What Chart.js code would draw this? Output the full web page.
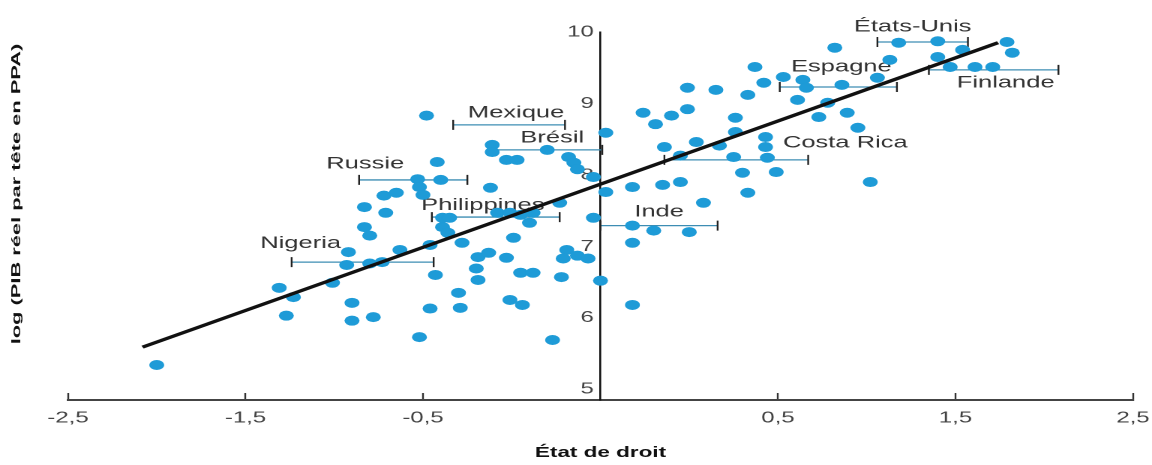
<!DOCTYPE html>
<html lang="fr">
<head>
<meta charset="utf-8">
<script src="https://cdn.jsdelivr.net/npm/chart.js@4.4.1/dist/chart.umd.min.js"></script>
<style>
html,body{margin:0;padding:0;background:#fff;overflow:hidden;}
#wrap{width:768px;height:465px;transform:scaleX(1.5);transform-origin:0 0;}
</style>
</head>
<body>
<div id="wrap"><canvas id="c" width="768" height="465"></canvas></div>
<script>
// ---------- DATA (x in the figure's plotting units; the published axis labels are uneven) ----------
const xTickValues = [-2.5, -1.5, -0.5, 0.5, 1.5, 2.5, 3.5];
const xTickLabels = ['-2,5', '-1,5', '-0,5', '', '0,5', '1,5', '2,5'];
const yTickValues = [5, 6, 7, 8, 9, 10];

const dotX = [
  -2.00, -1.31, -1.23, -1.27, -1.01, -0.92, -0.93, -0.90, -0.90, -0.78,
  -0.80, -0.73, -0.63, -0.83, -0.80, -0.83, -0.71, -0.72, -0.65, -0.53,
  -0.52, -0.50, -0.40, -0.42, -0.48, -0.12, -0.46, -0.28, -0.43, -0.46,
  -0.52, -0.30, -0.29, -0.39, -0.35, -0.39, -0.36, -0.19, -0.13, -0.20,
  -0.19, -0.03, 0.01, -0.11, -0.11, -0.03, 0.03, 0.20, 0.32, 0.35,
  0.37, 0.46, 0.53, 0.53, 0.27, -0.08, -0.01, 0.05, 0.12, 0.10,
  0.46, 0.05, 0.12, -0.01, 0.06, 0.23, 0.31, 0.29, 0.37, 0.43,
  0.28, 0.50,
  0.74, 0.81, 0.90, 0.99, 1.26, 1.26, 1.04, 0.86, 1.17, 0.95,
  1.25, 1.43, 1.43, 1.44, 1.30, 1.49, 1.33, 1.61, 1.73, 1.78,
  1.89, 1.95, 2.02, 0.68, 0.85, 0.95, 1.08, 0.68, 0.80, 1.00,
  0.68, 1.82, 1.37, 1.53, 1.64, 1.66, 1.42, 0.99, 1.15, 1.33,
  1.86, 2.06, 2.13, 2.18, 2.40, 2.54, 2.40, 2.47, 2.61, 2.71,
  2.79, 2.82, 0.68
];
const dotY = [
  5.34, 6.42, 6.29, 6.03, 6.49, 6.92, 6.74, 6.21, 5.96, 6.01,
  6.76, 6.78, 6.95, 7.27, 7.15, 7.55, 7.47, 7.71, 7.75, 7.94,
  7.83, 7.72, 7.93, 8.18, 8.83, 7.82, 7.02, 7.05, 6.60, 6.13,
  5.73, 6.35, 6.14, 7.40, 7.40, 7.27, 7.19, 6.85, 6.91, 6.69,
  6.53, 6.84, 7.12, 8.42, 8.32, 8.21, 8.21, 8.35, 8.25, 8.17,
  8.08, 7.97, 8.59, 7.76, 7.61, 7.47, 7.47, 7.44, 7.47, 7.33,
  7.40, 6.63, 6.63, 6.25, 6.18, 5.69, 6.95, 6.83, 6.87, 6.83,
  6.57, 6.52,
  8.87, 8.71, 8.83, 8.92, 8.80, 8.60, 8.46, 8.39, 8.41, 8.27,
  8.25, 8.53, 8.39, 8.24, 8.03, 8.04, 7.75, 9.05, 8.81, 9.01,
  8.87, 8.66, 7.90, 7.83, 7.86, 7.90, 7.61, 7.29, 7.22, 7.20,
  7.05, 9.78, 9.51, 9.37, 9.33, 9.22, 9.29, 9.22, 9.19, 9.12,
  9.26, 9.36, 9.61, 9.85, 9.87, 9.75, 9.65, 9.51, 9.51, 9.51,
  9.86, 9.71, 6.18
];

const fitX = [-2.08, 2.74];
const fitY = [5.59, 9.85];

const countries = ['Mexique', 'Brésil', 'Russie', 'Philippines', 'Nigeria', 'Inde', 'Costa Rica', 'Espagne', 'États-Unis', 'Finlande'];
const ciLow  = [-0.33, -0.11, -0.86, -0.45, -1.24, 0.50, 0.86, 1.51, 2.06, 2.35];
const ciHigh = [ 0.30,  0.51, -0.25,  0.27, -0.44, 1.16, 1.67, 2.17, 2.57, 3.08];
const ciY    = [ 8.70,  8.35,  7.93,  7.41,  6.78, 7.29, 8.21, 9.23, 9.86, 9.47];

const yTitleText = 'log (PIB réel par tête en PPA)';
const xTitleText = 'État de droit';

// ---------- STYLE ----------
const STRETCH = 1.5;                      // page is drawn at 768px and stretched to 1152px
const labelOffset = {                     // label position relative to the bar centre (screen px)
  dx: [7, 5, -48, -13, -62, 0, 109, 3, -10, 12],
  dy: [-12, -12, -16, -12, -19, -14, -17, -20, -15, 13]
};
const DOT = '#1e9bd7';
const BAR = '#3d8db3';
const SANS = '"Liberation Sans", Arial, Helvetica, sans-serif';

Chart.defaults.font.family = SANS;

const countryLabels = {
  id: 'countryLabels',
  beforeDatasetsDraw(chart) {
    const {ctx, scales: {x, y}} = chart;
    ctx.save();
    ctx.font = '17px ' + SANS;
    ctx.fillStyle = '#333';
    ctx.textAlign = 'center';
    ctx.textBaseline = 'middle';
    countries.forEach((name, i) => {
      const px = x.getPixelForValue((ciLow[i] + ciHigh[i]) / 2) + labelOffset.dx[i] / STRETCH;
      const py = y.getPixelForValue(ciY[i]) + labelOffset.dy[i];
      ctx.fillText(name, px, py);
    });
    ctx.restore();
  },
  afterDatasetsDraw(chart) {
    // reshape the rotated y title (drawn next, on layer z=1)
    const s = chart.scales.yTitle;
    const lh = 14 * 1.2;
    const cx = s.left + lh / 2;
    const cy = (s.top + s.bottom) / 2;
    const ctx = chart.ctx;
    ctx.save();
    ctx.translate(17 / STRETCH, 194);
    ctx.scale(0.62, 1.56);
    ctx.translate(-cx, -cy);
    chart.$ytSaved = true;
  },
  afterDraw(chart) {
    if (chart.$ytSaved) { chart.ctx.restore(); chart.$ytSaved = false; }
  }
};

const datasets = [
  {
    label: 'fit',
    data: fitX.map((v, i) => ({x: v, y: fitY[i]})),
    showLine: true,
    borderColor: '#111',
    borderWidth: 3.2,
    pointRadius: 0,
    order: 0
  },
  {
    label: 'pays',
    data: dotX.map((v, i) => ({x: v, y: dotY[i]})),
    backgroundColor: DOT,
    borderWidth: 0,
    pointRadius: 5,
    order: 1
  }
];
countries.forEach((name, i) => {
  datasets.push({
    label: name,
    data: [{x: ciLow[i], y: ciY[i]}, {x: ciHigh[i], y: ciY[i]}],
    showLine: true,
    borderColor: BAR,
    borderWidth: 1.3,
    pointStyle: 'line',
    rotation: 90,
    pointRadius: 5,
    pointBorderColor: '#222',
    pointBorderWidth: 1.2,
    order: 2
  });
});

new Chart(document.getElementById('c'), {
  type: 'scatter',
  data: {datasets},
  plugins: [countryLabels],
  options: {
    responsive: false,
    devicePixelRatio: 2,
    animation: false,
    events: [],
    layout: {padding: {left: 15.333, right: 12.667, top: 32, bottom: 0}},
    plugins: {legend: {display: false}, tooltip: {enabled: false}},
    scales: {
      x: {
        type: 'linear',
        position: 'bottom',
        min: -2.5,
        max: 3.5,
        afterBuildTicks: s => { s.ticks = xTickValues.map(v => ({value: v})); },
        afterFit: s => { s.height = 65; },
        ticks: {
          autoSkip: false,
          maxRotation: 0,
          padding: 0,
          color: '#444',
          font: {size: 16, lineHeight: '50px'},
          callback: (v, i) => xTickLabels[i]
        },
        grid: {
          display: true,
          drawOnChartArea: false,
          drawTicks: true,
          tickLength: -7,
          tickWidth: 1.2,
          tickColor: c => (xTickLabels[c.index] ? '#333' : 'rgba(0,0,0,0)')
        },
        border: {display: true, color: '#444', width: 2},
        title: {
          display: true,
          text: xTitleText,
          color: '#111',
          font: {family: SANS, size: 15, weight: 'bold'},
          padding: {top: 0, bottom: 3}
        }
      },
      y: {
        type: 'linear',
        position: {x: 0.5},
        min: 4.85,
        max: 10,
        afterBuildTicks: s => { s.ticks = yTickValues.map(v => ({value: v})); },
        afterFit: s => { s.width = 0; },
        ticks: {padding: 8, color: '#444', font: {size: 16}, callback: v => String(v) + ' '},
        grid: {display: false, drawTicks: false},
        border: {display: true, color: '#111', width: 1.3}
      },
      yTitle: {
        type: 'linear',
        position: 'left',
        display: true,
        min: 0,
        max: 1,
        afterFit: s => { s.width = 30; },
        ticks: {display: false},
        grid: {display: false, drawTicks: false, z: 1},
        border: {display: false},
        title: {
          display: true,
          text: yTitleText,
          color: '#111',
          font: {family: SANS, size: 14, weight: 'bold', lineHeight: 1.2},
          padding: 0
        }
      }
    }
  }
});
</script>
</body>
</html>
